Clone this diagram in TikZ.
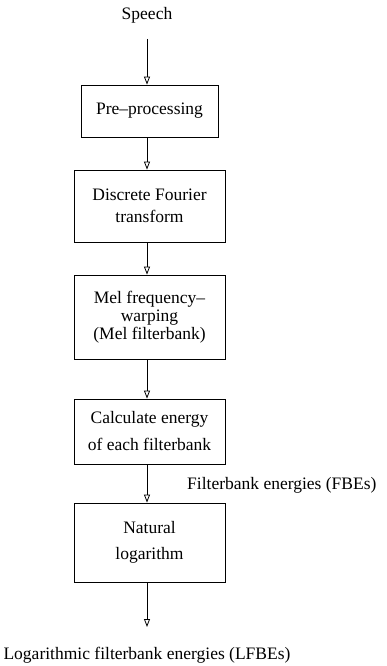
\documentclass[tikz,border=0pt]{standalone}
\usepackage{fontspec}
\setmainfont{Liberation Serif}
\usetikzlibrary{arrows.meta}
\begin{document}
\begin{tikzpicture}[x=1pt,y=-1pt,
  txt/.style={font=\fontsize{17.5}{22}\selectfont, inner sep=0pt},
  box/.style={draw, line width=0.8pt, minimum width=151pt, align=center, inner sep=0pt, font=\fontsize{17.5}{22}\selectfont},
  flow/.style={draw, line width=0.8pt, -{Triangle[open,length=8pt,width=6pt]}}
]
\useasboundingbox (0,0) rectangle (386,666);
\node[txt] (speech) at (147,15) {Speech};
\coordinate (top) at (147,39);
\node[box, minimum width=137pt, minimum height=52pt] (pre) at (149.5,111) {Pre--processing};
\node[box, minimum height=72pt] (dft) at (149.5,206) {Discrete Fourier\\transform};
\node[box, minimum height=84pt, font=\fontsize{17.5}{18}\selectfont] (mel) at (149.5,317) {Mel frequency--\\warping\\(Mel filterbank)};
\node[box, minimum height=65pt, font=\fontsize{17.5}{27}\selectfont] (calc) at (149.5,431.5) {Calculate energy\\of each filterbank};
\node[box, minimum height=79pt, font=\fontsize{17.5}{26}\selectfont] (nat) at (149.5,542.5) {Natural\\logarithm};
\coordinate (bot) at (147,627);
\node[txt, anchor=west] (fbe) at (187,485) {Filterbank energies (FBEs)};
\node[txt] (lfbe) at (147,655) {Logarithmic filterbank energies (LFBEs)};
\draw[flow] (top) -- (pre.north -| top);
\draw[flow] (pre.south -| top) -- (dft.north -| top);
\draw[flow] (dft.south -| top) -- (mel.north -| top);
\draw[flow] (mel.south -| top) -- (calc.north -| top);
\draw[flow] (calc.south -| top) -- (nat.north -| top);
\draw[flow] (nat.south -| top) -- (bot);
\end{tikzpicture}
\end{document}
